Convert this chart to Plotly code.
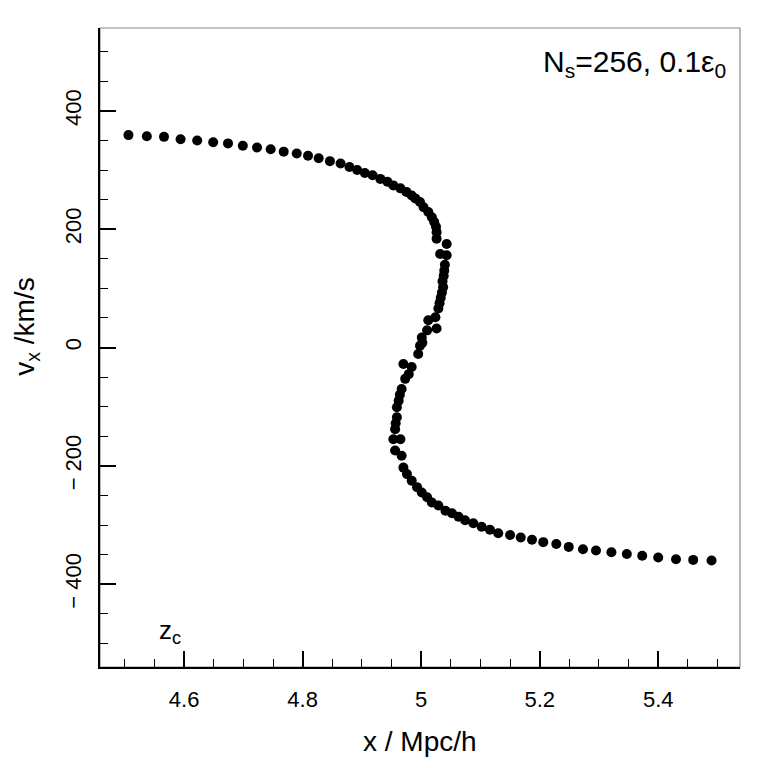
"""Phase-space plot: v_x against x near a caustic."""

import plotly.graph_objects as go

# particle positions (Mpc/h) and velocities (km/s)
x_pos = [
    4.506, 4.537, 4.566, 4.594, 4.622, 4.649, 4.674, 4.699, 4.723, 4.746,
    4.768, 4.790, 4.809, 4.827, 4.846, 4.864, 4.879, 4.892, 4.905, 4.918,
    4.931, 4.943, 4.953, 4.965, 4.975, 4.984, 4.990, 4.998, 5.004, 5.012,
    5.018, 5.022, 5.025, 5.026, 5.026, 5.043, 5.032, 5.043, 5.040, 5.039,
    5.038, 5.036, 5.037, 5.035, 5.033, 5.031, 5.029, 5.024, 5.012, 5.026,
    5.010, 5.001, 5.002, 4.998, 4.995, 4.970, 4.984, 4.979, 4.973, 4.967,
    4.964, 4.962, 4.959, 4.959, 4.957, 4.956, 4.953, 4.965, 4.956, 4.967,
    4.970, 4.976, 4.984, 4.993, 5.001, 5.010, 5.018, 5.029, 5.041, 5.052,
    5.063, 5.074, 5.088, 5.102, 5.116, 5.130, 5.150, 5.168, 5.187, 5.206,
    5.228, 5.249, 5.273, 5.295, 5.321, 5.347, 5.373, 5.400, 5.430, 5.459,
    5.490,
]
v_x = [
    359, 357, 356, 352, 350, 347, 345, 341, 338, 335,
    331, 328, 324, 320, 315, 311, 305, 300, 295, 291,
    285, 280, 274, 269, 263, 257, 252, 246, 237, 229,
    220, 212, 204, 195, 184, 175, 158, 156, 140, 130,
    121, 112, 102, 93, 84, 75, 66, 51, 46, 32,
    29, 17, 8, 3, -11, -28, -33, -45, -53, -70,
    -80, -90, -101, -118, -128, -138, -155, -155, -174, -183,
    -203, -214, -225, -236, -245, -253, -262, -267, -276, -280,
    -286, -292, -297, -303, -308, -314, -317, -321, -325, -329,
    -332, -337, -341, -343, -346, -349, -352, -355, -358, -359,
    -360,
]

x_ticks = [4.6, 4.8, 5.0, 5.2, 5.4]
x_tick_text = ["4.6", "4.8", "5", "5.2", "5.4"]
y_ticks = [-400, -200, 0, 200, 400]
y_tick_text = ["\u2212 400", "\u2212 200", "0", "200", "400"]

FONT = "Liberation Sans, Arial, sans-serif"

fig = go.Figure(
    go.Scatter(
        x=x_pos,
        y=v_x,
        mode="markers",
        marker=dict(color="black", size=10),
        showlegend=False,
    )
)

axis_common = dict(
    showgrid=False,
    zeroline=False,
    showline=True,
    linecolor="black",
    linewidth=2,
    ticks="inside",
    ticklen=16,
    tickwidth=1.5,
    tickcolor="black",
    tickfont=dict(family=FONT, size=22, color="black"),
)

fig.update_xaxes(
    range=[4.458, 5.538],
    tickvals=x_ticks,
    ticktext=x_tick_text,
    ticklabelstandoff=12,
    minor=dict(dtick=0.05, tick0=4.6, ticks="inside", ticklen=8, tickwidth=1.2, tickcolor="black"),
    **axis_common,
)
fig.update_yaxes(
    range=[-540, 540],
    tickvals=y_ticks,
    ticktext=y_tick_text,
    tickangle=-90,
    ticklabelstandoff=8,
    minor=dict(dtick=50, tick0=0, ticks="inside", ticklen=8, tickwidth=1.2, tickcolor="black"),
    **axis_common,
)

# thin grey frame on the top and right
fig.add_shape(
    type="rect", xref="x domain", yref="y domain",
    x0=0, x1=1, y0=0, y1=1,
    line=dict(color="#8a8a8a", width=1.2), layer="below",
)

fig.add_annotation(
    text="x / Mpc/h", xref="paper", yref="paper", x=0.5, y=-0.117,
    showarrow=False, xanchor="center", yanchor="middle",
    font=dict(family=FONT, size=28, color="black"),
)
fig.add_annotation(
    text="v<sub>x</sub> /km/s", xref="paper", yref="paper", x=-0.116, y=0.532,
    textangle=-90, showarrow=False, xanchor="center", yanchor="middle",
    font=dict(family=FONT, size=28, color="black"),
)
fig.add_annotation(
    text="N<sub>s</sub>=256, 0.1\u03b5<sub>0</sub>", xref="paper", yref="paper",
    x=0.981, y=0.945, showarrow=False, xanchor="right", yanchor="middle",
    font=dict(family=FONT, size=30, color="black"),
)
fig.add_annotation(
    text="z<sub>c</sub>", xref="paper", yref="paper",
    x=0.089, y=0.055, showarrow=False, xanchor="left", yanchor="middle",
    font=dict(family=FONT, size=26, color="black"),
)

# the page adds an 8px body margin, so the figure is 760 square
fig.update_layout(
    width=760,
    height=760,
    margin=dict(l=92, r=28, t=20, b=101),
    paper_bgcolor="white",
    plot_bgcolor="white",
)

fig.write_html("out.html")
